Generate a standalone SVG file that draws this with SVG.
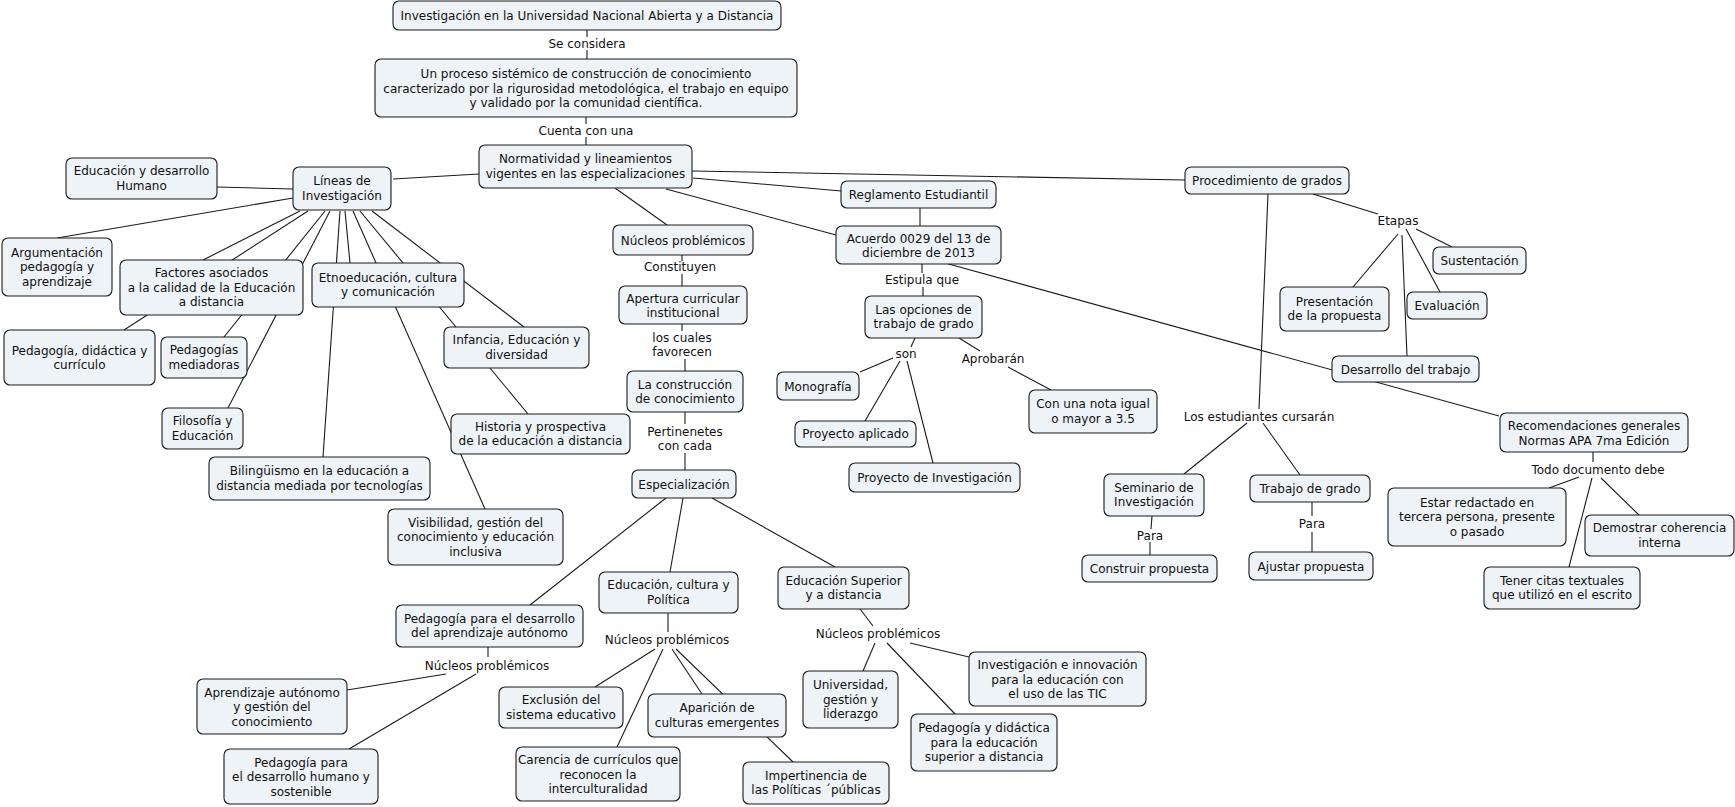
<svg xmlns="http://www.w3.org/2000/svg" width="1735" height="807" viewBox="0 0 1735 807">
<style>
.n rect{fill:#edf3f6;stroke:#1a1a1a;stroke-width:1.1}
text{font-family:"DejaVu Sans",Verdana,sans-serif;font-size:12px;fill:#111;text-anchor:middle}
#connectors line{stroke:#1a1a1a;stroke-width:1.1}
</style>
<rect width="1735" height="807" fill="#ffffff"/>
<g id="connectors">
<line x1="587" y1="30" x2="587" y2="37"/><line x1="587" y1="50" x2="587" y2="59"/>
<line x1="586" y1="117" x2="586" y2="124"/><line x1="586" y1="137" x2="586" y2="145"/>
<line x1="479" y1="174" x2="393" y2="179"/>
<line x1="293" y1="189" x2="217" y2="187"/>
<line x1="293" y1="198" x2="57" y2="238"/>
<line x1="300" y1="211" x2="203" y2="260"/>
<line x1="308" y1="211" x2="124" y2="330"/>
<line x1="325" y1="211" x2="224" y2="337"/>
<line x1="330" y1="211" x2="228" y2="408"/>
<line x1="340" y1="211" x2="323" y2="457"/>
<line x1="345" y1="211" x2="350" y2="263"/>
<line x1="353" y1="211" x2="485" y2="509"/>
<line x1="360" y1="211" x2="528" y2="414"/>
<line x1="372" y1="211" x2="524" y2="327"/>
<line x1="615" y1="188" x2="667" y2="225"/>
<line x1="693" y1="178" x2="841" y2="191"/>
<line x1="666" y1="189" x2="836" y2="235"/>
<line x1="692" y1="171" x2="1185" y2="180"/>
<line x1="920" y1="208" x2="920" y2="226"/>
<line x1="682" y1="255" x2="682" y2="261"/><line x1="682" y1="274" x2="682" y2="286"/>
<line x1="682" y1="324" x2="682" y2="331"/><line x1="685" y1="359" x2="685" y2="371"/>
<line x1="685" y1="412" x2="685" y2="424"/><line x1="685" y1="453" x2="685" y2="470"/>
<line x1="922" y1="264" x2="922" y2="273"/><line x1="923" y1="287" x2="923" y2="296"/>
<line x1="915" y1="338" x2="911" y2="347"/>
<line x1="893" y1="358" x2="860" y2="372"/>
<line x1="900" y1="361" x2="865" y2="421"/>
<line x1="907" y1="361" x2="933" y2="463"/>
<line x1="959" y1="338" x2="980" y2="351"/>
<line x1="1008" y1="367" x2="1051" y2="390"/>
<line x1="945" y1="263" x2="1499" y2="416"/>
<line x1="1313" y1="194" x2="1378" y2="214"/>
<line x1="1416" y1="229" x2="1452" y2="247"/>
<line x1="1398" y1="234" x2="1353" y2="287"/>
<line x1="1406" y1="229" x2="1440" y2="292"/>
<line x1="1402" y1="235" x2="1407" y2="356"/>
<line x1="1268" y1="194" x2="1259" y2="409"/>
<line x1="1247" y1="423" x2="1184" y2="474"/>
<line x1="1263" y1="423" x2="1300" y2="475"/>
<line x1="1152" y1="516" x2="1151" y2="529"/><line x1="1150" y1="542" x2="1150" y2="555"/>
<line x1="1312" y1="502" x2="1312" y2="516"/><line x1="1312" y1="532" x2="1312" y2="552"/>
<line x1="1593" y1="452" x2="1593" y2="462"/>
<line x1="1579" y1="477" x2="1549" y2="488"/>
<line x1="1592" y1="478" x2="1569" y2="567"/>
<line x1="1601" y1="478" x2="1640" y2="516"/>
<line x1="666" y1="498" x2="530" y2="605"/>
<line x1="683" y1="498" x2="670" y2="572"/>
<line x1="712" y1="498" x2="835" y2="567"/>
<line x1="488" y1="647" x2="488" y2="657"/>
<line x1="446" y1="674" x2="347" y2="690"/>
<line x1="476" y1="674" x2="349" y2="749"/>
<line x1="668" y1="613" x2="668" y2="632"/>
<line x1="655" y1="649" x2="595" y2="687"/>
<line x1="663" y1="649" x2="617" y2="747"/>
<line x1="672" y1="649" x2="702" y2="694"/>
<line x1="676" y1="649" x2="793" y2="762"/>
<line x1="860" y1="609" x2="873" y2="626"/>
<line x1="875" y1="643" x2="863" y2="671"/>
<line x1="887" y1="643" x2="955" y2="714"/>
<line x1="910" y1="643" x2="969" y2="657"/>
</g>
<g id="labels">
<text x="587" y="48">Se considera</text>
<text x="586" y="135">Cuenta con una</text>
<text x="680" y="271">Constituyen</text>
<text x="682" y="342">los cuales</text><text x="682" y="356">favorecen</text>
<text x="685" y="436">Pertinenetes</text><text x="685" y="450">con cada</text>
<text x="922" y="284">Estipula que</text>
<text x="906" y="358">son</text>
<text x="993" y="363">Aprobarán</text>
<text x="1398" y="225">Etapas</text>
<text x="1259" y="421">Los estudiantes cursarán</text>
<text x="1598" y="474">Todo documento debe</text>
<text x="1150" y="540">Para</text>
<text x="1312" y="528">Para</text>
<text x="487" y="670">Núcleos problémicos</text>
<text x="667" y="644">Núcleos problémicos</text>
<text x="878" y="638">Núcleos problémicos</text>
</g>
<g id="n1" class="n"><rect x="393" y="1" width="388" height="29" rx="6"/><text x="587" y="20">Investigación en la Universidad Nacional Abierta y a Distancia</text></g>
<g id="n2" class="n"><rect x="375" y="59" width="422" height="58" rx="6"/><text x="586" y="78">Un proceso sistémico de construcción de conocimiento</text><text x="586" y="92.5">caracterizado por la rigurosidad metodológica, el trabajo en equipo</text><text x="586" y="107">y validado por la comunidad científica.</text></g>
<g id="n3" class="n"><rect x="479" y="145" width="213" height="43" rx="6"/><text x="585.5" y="163">Normatividad y lineamientos</text><text x="585.5" y="177.5">vigentes en las especializaciones</text></g>
<g id="n4" class="n"><rect x="66" y="158" width="151" height="41" rx="6"/><text x="141.5" y="175">Educación y desarrollo</text><text x="141.5" y="189.5">Humano</text></g>
<g id="n5" class="n"><rect x="293" y="167" width="98" height="43" rx="6"/><text x="342" y="185">Líneas de</text><text x="342" y="199.5">Investigación</text></g>
<g id="n6" class="n"><rect x="2" y="238" width="110" height="58" rx="6"/><text x="57" y="256.5">Argumentación</text><text x="57" y="271">pedagogía y</text><text x="57" y="285.5">aprendizaje</text></g>
<g id="n7" class="n"><rect x="120" y="260" width="183" height="55" rx="6"/><text x="211.5" y="277">Factores asociados</text><text x="211.5" y="291.5">a la calidad de la Educación</text><text x="211.5" y="306">a distancia</text></g>
<g id="n8" class="n"><rect x="312" y="263" width="152" height="44" rx="6"/><text x="388" y="281.5">Etnoeducación, cultura</text><text x="388" y="296">y comunicación</text></g>
<g id="n9" class="n"><rect x="4" y="330" width="151" height="55" rx="6"/><text x="79.5" y="354.5">Pedagogía, didáctica y</text><text x="79.5" y="369">currículo</text></g>
<g id="n10" class="n"><rect x="161" y="337" width="86" height="41" rx="6"/><text x="204" y="354">Pedagogías</text><text x="204" y="368.5">mediadoras</text></g>
<g id="n11" class="n"><rect x="162" y="408" width="81" height="41" rx="6"/><text x="202.5" y="425">Filosofía y</text><text x="202.5" y="439.5">Educación</text></g>
<g id="n12" class="n"><rect x="444" y="327" width="145" height="41" rx="6"/><text x="516.5" y="344">Infancia, Educación y</text><text x="516.5" y="358.5">diversidad</text></g>
<g id="n13" class="n"><rect x="451" y="414" width="179" height="40" rx="6"/><text x="540.5" y="430.5">Historia y prospectiva</text><text x="540.5" y="445">de la educación a distancia</text></g>
<g id="n14" class="n"><rect x="209" y="457" width="221" height="43" rx="6"/><text x="319.5" y="475">Bilingüismo en la educación a</text><text x="319.5" y="489.5">distancia mediada por tecnologías</text></g>
<g id="n15" class="n"><rect x="388" y="509" width="175" height="56" rx="6"/><text x="475.5" y="526.5">Visibilidad, gestión del</text><text x="475.5" y="541">conocimiento y educación</text><text x="475.5" y="555.5">inclusiva</text></g>
<g id="n16" class="n"><rect x="613" y="225" width="140" height="30" rx="6"/><text x="683" y="244.5">Núcleos problémicos</text></g>
<g id="n17" class="n"><rect x="619" y="286" width="128" height="38" rx="6"/><text x="683" y="302.5">Apertura curricular</text><text x="683" y="317">institucional</text></g>
<g id="n18" class="n"><rect x="627" y="371" width="116" height="41" rx="6"/><text x="685" y="388.5">La construcción</text><text x="685" y="403">de conocimiento</text></g>
<g id="n19" class="n"><rect x="632" y="470" width="104" height="28" rx="6"/><text x="684" y="488.5">Especialización</text></g>
<g id="n20" class="n"><rect x="841" y="181" width="155" height="27" rx="6"/><text x="918.5" y="199">Reglamento Estudiantil</text></g>
<g id="n21" class="n"><rect x="836" y="226" width="165" height="38" rx="6"/><text x="918.5" y="242.5">Acuerdo 0029 del 13 de</text><text x="918.5" y="257">diciembre de 2013</text></g>
<g id="n22" class="n"><rect x="865" y="296" width="117" height="42" rx="6"/><text x="923.5" y="313.5">Las opciones de</text><text x="923.5" y="328">trabajo de grado</text></g>
<g id="n23" class="n"><rect x="777" y="372" width="82" height="28" rx="6"/><text x="818" y="390.5">Monografía</text></g>
<g id="n24" class="n"><rect x="795" y="421" width="121" height="26" rx="6"/><text x="855.5" y="438">Proyecto aplicado</text></g>
<g id="n25" class="n"><rect x="849" y="463" width="171" height="29" rx="6"/><text x="934.5" y="481.5">Proyecto de Investigación</text></g>
<g id="n26" class="n"><rect x="1029" y="390" width="128" height="43" rx="6"/><text x="1093" y="408">Con una nota igual</text><text x="1093" y="422.5">o mayor a 3.5</text></g>
<g id="n27" class="n"><rect x="1185" y="167" width="164" height="27" rx="6"/><text x="1267" y="185">Procedimiento de grados</text></g>
<g id="n28" class="n"><rect x="1433" y="247" width="93" height="27" rx="6"/><text x="1479.5" y="265">Sustentación</text></g>
<g id="n29" class="n"><rect x="1280" y="287" width="109" height="44" rx="6"/><text x="1334.5" y="305.5">Presentación</text><text x="1334.5" y="320">de la propuesta</text></g>
<g id="n30" class="n"><rect x="1407" y="292" width="80" height="27" rx="6"/><text x="1447" y="310">Evaluación</text></g>
<g id="n31" class="n"><rect x="1332" y="356" width="147" height="26" rx="6"/><text x="1405.5" y="373.5">Desarrollo del trabajo</text></g>
<g id="n32" class="n"><rect x="1500" y="413" width="188" height="39" rx="6"/><text x="1594" y="430">Recomendaciones generales</text><text x="1594" y="444.5">Normas APA 7ma Edición</text></g>
<g id="n33" class="n"><rect x="1104" y="474" width="100" height="42" rx="6"/><text x="1154" y="491.5">Seminario de</text><text x="1154" y="506">Investigación</text></g>
<g id="n34" class="n"><rect x="1250" y="475" width="120" height="27" rx="6"/><text x="1310" y="493">Trabajo de grado</text></g>
<g id="n35" class="n"><rect x="1082" y="555" width="135" height="27" rx="6"/><text x="1149.5" y="573">Construir propuesta</text></g>
<g id="n36" class="n"><rect x="1249" y="552" width="124" height="28" rx="6"/><text x="1311" y="570.5">Ajustar propuesta</text></g>
<g id="n37" class="n"><rect x="1388" y="488" width="178" height="58" rx="6"/><text x="1477" y="506.5">Estar redactado en</text><text x="1477" y="521">tercera persona, presente</text><text x="1477" y="535.5">o pasado</text></g>
<g id="n38" class="n"><rect x="1585" y="515" width="149" height="41" rx="6"/><text x="1659.5" y="532">Demostrar coherencia</text><text x="1659.5" y="546.5">interna</text></g>
<g id="n39" class="n"><rect x="1484" y="567" width="156" height="42" rx="6"/><text x="1562" y="584.5">Tener citas textuales</text><text x="1562" y="599">que utilizó en el escrito</text></g>
<g id="n40" class="n"><rect x="396" y="605" width="187" height="42" rx="6"/><text x="489.5" y="622.5">Pedagogía para el desarrollo</text><text x="489.5" y="637">del aprendizaje autónomo</text></g>
<g id="n41" class="n"><rect x="599" y="572" width="139" height="41" rx="6"/><text x="668.5" y="589">Educación, cultura y</text><text x="668.5" y="603.5">Política</text></g>
<g id="n42" class="n"><rect x="778" y="567" width="131" height="42" rx="6"/><text x="843.5" y="584.5">Educación Superior</text><text x="843.5" y="599">y a distancia</text></g>
<g id="n43" class="n"><rect x="197" y="679" width="150" height="55" rx="6"/><text x="272" y="696.5">Aprendizaje autónomo</text><text x="272" y="711">y gestión del</text><text x="272" y="725.5">conocimiento</text></g>
<g id="n44" class="n"><rect x="224" y="749" width="154" height="55" rx="6"/><text x="301" y="766.5">Pedagogía para</text><text x="301" y="781">el desarrollo humano y</text><text x="301" y="795.5">sostenible</text></g>
<g id="n45" class="n"><rect x="499" y="687" width="124" height="41" rx="6"/><text x="561" y="704">Exclusión del</text><text x="561" y="718.5">sistema educativo</text></g>
<g id="n46" class="n"><rect x="648" y="694" width="138" height="43" rx="6"/><text x="717" y="712">Aparición de</text><text x="717" y="726.5">culturas emergentes</text></g>
<g id="n47" class="n"><rect x="516" y="747" width="164" height="54" rx="6"/><text x="598" y="764">Carencia de currículos que</text><text x="598" y="778.5">reconocen la</text><text x="598" y="793">interculturalidad</text></g>
<g id="n48" class="n"><rect x="743" y="762" width="146" height="42" rx="6"/><text x="816" y="779.5">Impertinencia de</text><text x="816" y="794">las Políticas ´públicas</text></g>
<g id="n49" class="n"><rect x="803" y="671" width="95" height="57" rx="6"/><text x="850.5" y="689">Universidad,</text><text x="850.5" y="703.5">gestión y</text><text x="850.5" y="718">liderazgo</text></g>
<g id="n50" class="n"><rect x="969" y="652" width="177" height="54" rx="6"/><text x="1057.5" y="669">Investigación e innovación</text><text x="1057.5" y="683.5">para la educación con</text><text x="1057.5" y="698">el uso de las TIC</text></g>
<g id="n51" class="n"><rect x="911" y="714" width="146" height="57" rx="6"/><text x="984" y="732">Pedagogía y didáctica</text><text x="984" y="746.5">para la educación</text><text x="984" y="761">superior a distancia</text></g>
</svg>
